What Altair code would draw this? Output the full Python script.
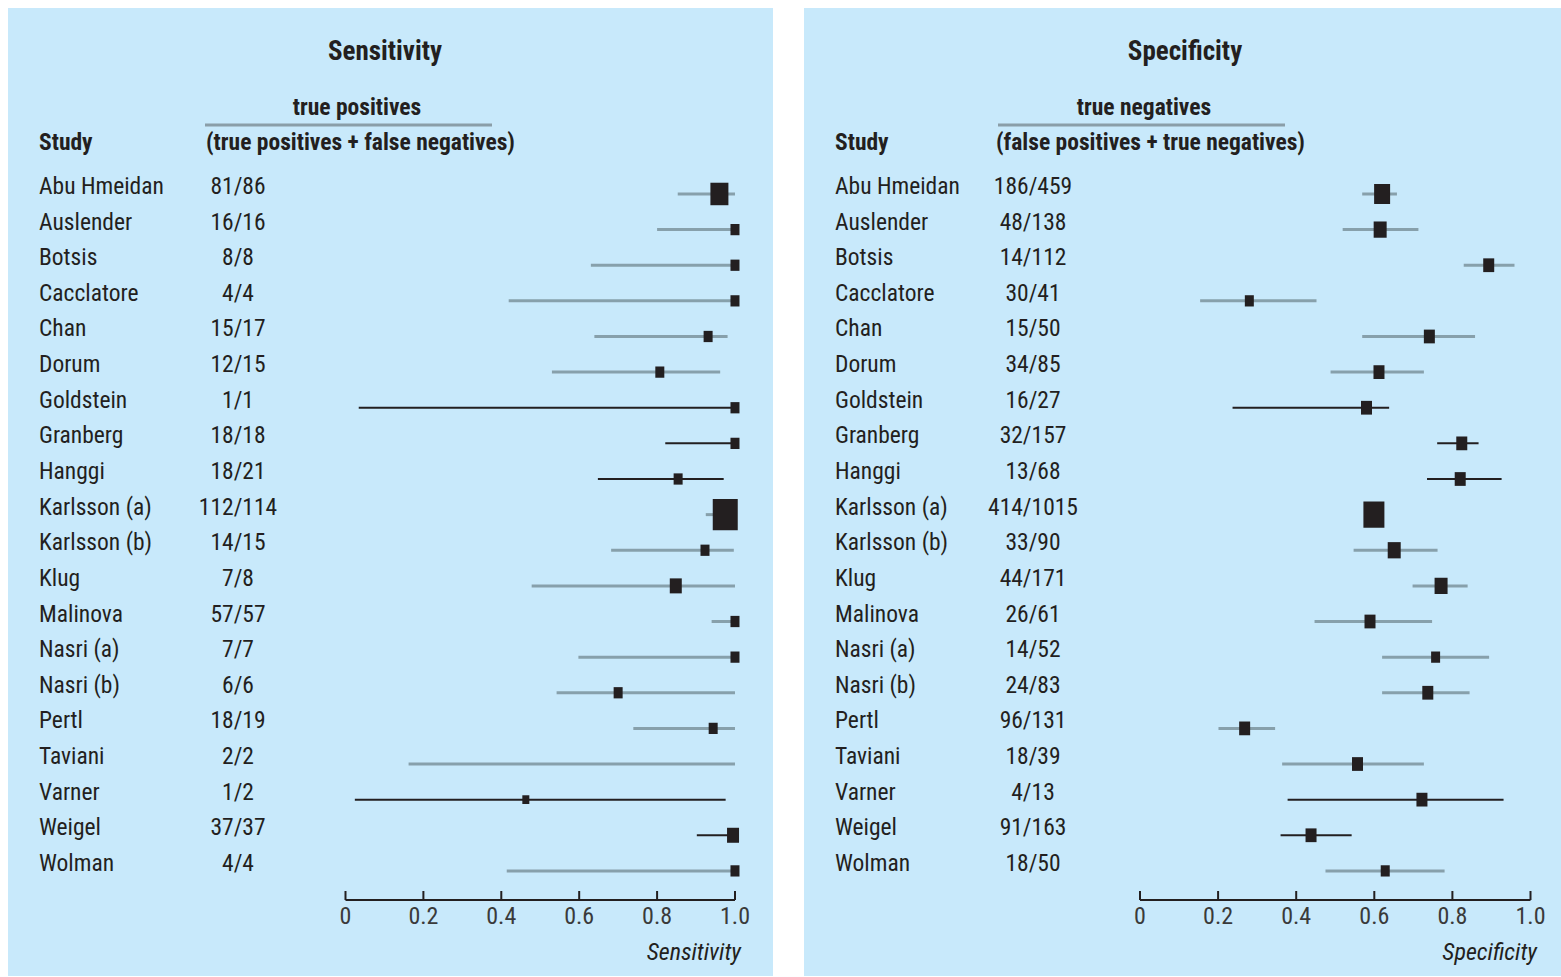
import altair as alt
import pandas as pd

studies = ["Abu Hmeidan", "Auslender", "Botsis", "Cacclatore", "Chan", "Dorum",
           "Goldstein", "Granberg", "Hanggi", "Karlsson (a)", "Karlsson (b)", "Klug",
           "Malinova", "Nasri (a)", "Nasri (b)", "Pertl", "Taviani", "Varner",
           "Weigel", "Wolman"]

# line style of each study's confidence interval
ci_style = ["grey", "grey", "grey", "grey", "grey", "grey", "black", "black", "black",
            "grey", "grey", "grey", "grey", "grey", "grey", "grey", "grey", "black",
            "black", "grey"]

sens_frac = ["81/86", "16/16", "8/8", "4/4", "15/17", "12/15", "1/1", "18/18", "18/21",
             "112/114", "14/15", "7/8", "57/57", "7/7", "6/6", "18/19", "2/2", "1/2",
             "37/37", "4/4"]
sens_est = [0.96, 1.0, 1.0, 1.0, 0.931, 0.807, 1.0, 1.0, 0.854, 0.975, 0.923, 0.848,
            1.0, 1.0, 0.70, 0.944, None, 0.463, 0.995, 1.0]
sens_lo = [0.853, 0.80, 0.63, 0.419, 0.639, 0.53, 0.034, 0.821, 0.648, 0.925, 0.682,
           0.478, 0.94, 0.598, 0.542, 0.739, 0.162, 0.024, 0.902, 0.414]
sens_hi = [1.0, 1.0, 1.0, 1.0, 0.981, 0.962, 1.0, 1.0, 0.971, 1.0, 0.997, 1.0, 1.0,
           1.0, 1.0, 1.0, 1.0, 0.976, 1.0, 1.0]
sens_weight = [18, 9, 9, 9, 9, 9, 9, 9, 9, 25, 9, 12, 9, 9, 9, 9, 0, 7, 12, 9]

spec_frac = ["186/459", "48/138", "14/112", "30/41", "15/50", "34/85", "16/27", "32/157",
             "13/68", "414/1015", "33/90", "44/171", "26/61", "14/52", "24/83", "96/131",
             "18/39", "4/13", "91/163", "18/50"]
spec_est = [0.620, 0.615, 0.893, 0.280, 0.741, 0.612, 0.580, 0.824, 0.820, 0.599, 0.651,
            0.771, 0.589, 0.757, 0.737, 0.268, 0.557, 0.722, 0.438, 0.628]
spec_lo = [0.569, 0.519, 0.829, 0.154, 0.569, 0.488, 0.237, 0.761, 0.735, 0.580, 0.547,
           0.698, 0.447, 0.62, 0.62, 0.201, 0.364, 0.378, 0.360, 0.475]
spec_hi = [0.658, 0.713, 0.959, 0.452, 0.858, 0.727, 0.638, 0.867, 0.926, 0.618, 0.762,
           0.839, 0.748, 0.894, 0.844, 0.346, 0.727, 0.931, 0.542, 0.780]
spec_weight = [16, 13, 11, 9, 11, 11, 11, 11, 11, 21, 13, 13, 11, 9, 11, 11, 11, 11, 11, 9]

tick_values = [0, 0.2, 0.4, 0.6, 0.8, 1.0]
tick_labels = ["0", "0.2", "0.4", "0.6", "0.8", "1.0"]

FONT = "Liberation Sans Narrow, Roboto Condensed, Arial Narrow, Liberation Sans, sans-serif"
INK = "#231f20"
BG = "#c8e9fb"
SQ = "M-1,-1.25L1,-1.25L1,1.25L-1,1.25Z"


def panel(title, sub_top, sub_bottom, fracs, est, lo, hi, weight, axis_title,
          xdom, width, frac_x, title_x, sub_x, rule_x0, rule_x1, sub_bottom_x):
    df = pd.DataFrame({
        "row": list(range(len(studies))), "study": studies, "frac": fracs,
        "est": est, "lo": lo, "hi": hi, "w": weight, "style": ci_style,
    })
    df["size"] = df["w"] ** 2
    xs = alt.Scale(domain=xdom, nice=False, zero=False)
    ys = alt.Scale(domain=[21.95, -5.22], nice=False, zero=False)
    base = alt.Chart(df)

    ci = base.mark_rule().encode(
        x=alt.X("lo:Q", scale=xs, axis=None),
        x2="hi:Q",
        y=alt.Y("row:Q", scale=ys, axis=None),
        color=alt.Color("style:N", scale=alt.Scale(domain=["grey", "black"],
                                                   range=["#87a0ab", INK]), legend=None),
        strokeWidth=alt.StrokeWidth("style:N", scale=alt.Scale(domain=["grey", "black"],
                                                               range=[3, 2]), legend=None),
    )
    pts = base.transform_filter("isValid(datum.est) && isFinite(datum.est)").mark_point(
        shape=SQ, filled=True, opacity=1, color=INK, strokeWidth=0
    ).encode(
        x=alt.X("est:Q", scale=xs, axis=None),
        y=alt.Y("row:Q", scale=ys, axis=None),
        size=alt.Size("size:Q", scale=None, legend=None),
    )
    names = base.mark_text(align="left", baseline="middle", dy=-7, font=FONT,
                           fontSize=23.5, color=INK).encode(
        x=alt.value(31), y=alt.Y("row:Q", scale=ys, axis=None), text="study:N")
    fr = base.mark_text(align="center", baseline="middle", dy=-7, font=FONT,
                        fontSize=23.5, color=INK).encode(
        x=alt.value(frac_x), y=alt.Y("row:Q", scale=ys, axis=None), text="frac:N")

    def label(txt, x, y, size, bold=True, align="center", italic=False):
        return alt.Chart(pd.DataFrame({"t": [txt]})).mark_text(
            align=align, baseline="middle", font=FONT, fontSize=size,
            fontWeight="bold" if bold else "normal",
            fontStyle="italic" if italic else "normal", color=INK,
        ).encode(x=alt.value(x), y=alt.value(y), text="t:N")

    head = [
        label(title, title_x, 44, 27),
        label(sub_top, sub_x, 100, 23.5),
        label("Study", 31, 135, 23.5, align="left"),
        label(sub_bottom, sub_bottom_x, 135, 23.5, align="left"),
        label(axis_title, 733, 945, 24, bold=False, align="right", italic=True),
    ]
    hrule = alt.Chart(pd.DataFrame({"a": [0]})).mark_rule(
        color="#8a9ea8", strokeWidth=3).encode(
        x=alt.value(rule_x0), x2=alt.value(rule_x1), y=alt.value(117))

    tk = pd.DataFrame({"v": tick_values, "lab": tick_labels})
    dom = alt.Chart(pd.DataFrame({"a": [tick_values[0]], "b": [tick_values[-1]]})).mark_rule(
        color=INK, strokeWidth=2).encode(
        x=alt.X("a:Q", scale=xs, axis=None), x2="b:Q", y=alt.value(892))
    ticks = alt.Chart(tk).mark_rule(color=INK, strokeWidth=2).encode(
        x=alt.X("v:Q", scale=xs, axis=None), y=alt.value(883), y2=alt.value(892))
    tlabs = alt.Chart(tk).mark_text(align="center", baseline="middle", font=FONT,
                                    fontSize=24, color="#3a3a3a").encode(
        x=alt.X("v:Q", scale=xs, axis=None), y=alt.value(909), text="lab:N")

    return alt.layer(hrule, ci, pts, names, fr, dom, ticks, tlabs, *head).properties(
        width=width, height=968)


left = panel("Sensitivity", "true positives", "(true positives + false negatives)",
             sens_frac, sens_est, sens_lo, sens_hi, sens_weight, "Sensitivity",
             [-0.8665, 1.0976], 765, 230, 377, 349, 197, 484, 198)
right = panel("Specificity", "true negatives", "(false positives + true negatives)",
              spec_frac, spec_est, spec_lo, spec_hi, spec_weight, "Specificity",
              [-0.8604, 1.0781], 757, 229, 381, 340, 194, 481, 192)

chart = alt.hconcat(left, right, spacing=31).properties(
    padding={"left": 8, "top": 8, "right": 0, "bottom": 0}
).configure(background="white").configure_view(fill=BG, strokeWidth=0)

chart.save("out.html", embed_options={"renderer": "svg", "actions": False})
